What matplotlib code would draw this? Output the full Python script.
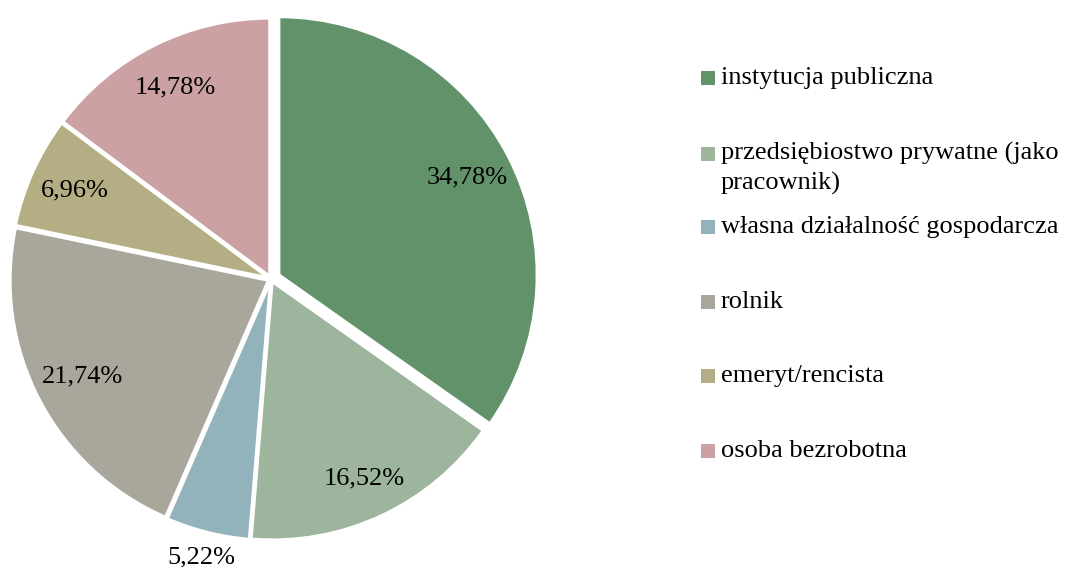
import matplotlib.pyplot as plt
import numpy as np
from matplotlib.patches import Rectangle

plt.rcParams['font.family'] = ['Liberation Serif', 'DejaVu Serif']

labels = ['instytucja publiczna', 'przedsiębiostwo prywatne (jako\npracownik)',
          'własna działalność gospodarcza', 'rolnik', 'emeryt/rencista', 'osoba bezrobotna']
values = [34.78, 16.52, 5.22, 21.74, 6.96, 14.78]
pct_text = ['34,78%', '16,52%', '5,22%', '21,74%', '6,96%', '14,78%']
colors = ['#62926a', '#9cb59c', '#93b3bc', '#a9a79b', '#b5ae85', '#cba1a3']
explode = [0.035, 0.012, 0.012, 0.012, 0.012, 0.012]
label_dist = [0.82, 0.84, 1.10, 0.81, 0.82, 0.82]

W, H = 1065, 567
fig = plt.figure(figsize=(W / 100, H / 100), dpi=100)

# pie centre ~ (272, 279) px, radius ~258 px
r = 258
cx, cy = 271, H - 279
half = 1.1 * r
ax = fig.add_axes([(cx - half) / W, (cy - half) / H, 2 * half / W, 2 * half / H])
wedges, _ = ax.pie(values, colors=colors, startangle=90, counterclock=False,
                   explode=explode, wedgeprops=dict(edgecolor='white', linewidth=2))
ax.set_xlim(-1.1, 1.1)
ax.set_ylim(-1.1, 1.1)
ax.set_aspect('equal')
ax.axis('off')

for w, t, d in zip(wedges, pct_text, label_dist):
    ang = np.deg2rad((w.theta1 + w.theta2) / 2)
    ox, oy = w.center
    ax.text(ox + d * np.cos(ang), oy + d * np.sin(ang), t, ha='center', va='center',
            fontsize=19, color='black')

# legend drawn by hand
baselines = [84, 160, 233, 308, 382, 457]
for lab, col, b in zip(labels, colors, baselines):
    fig.patches.append(Rectangle((701 / W, (H - b - 0.5) / H), 14 / W, 14 / H,
                                 transform=fig.transFigure, facecolor=col, edgecolor='none'))
    for i, line in enumerate(lab.split('\n')):
        fig.text(721 / W, (H - b - 30 * i) / H, line, ha='left', va='baseline',
                 fontsize=19, color='black')

fig.savefig('out.png', dpi=100)
